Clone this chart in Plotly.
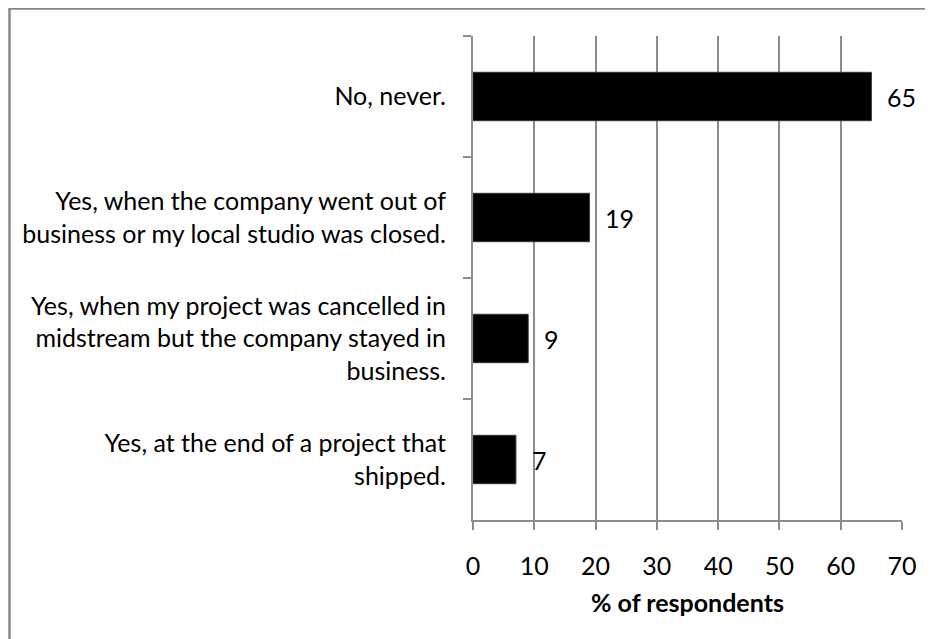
import plotly.graph_objects as go

CATEGORIES = [
    "No, never.",
    "Yes, when the company went out of<br>business or my local studio was closed.",
    "Yes, when my project was cancelled in<br>midstream but the company stayed in<br>business.",
    "Yes, at the end of a project that<br>shipped.",
]
VALUES = [65, 19, 9, 7]
X_TICKS = [0, 10, 20, 30, 40, 50, 60, 70]
X_TITLE = "% of respondents"

FONT = "Lato, Carlito, Calibri, sans-serif"
GRID = "#8c8c8c"
FS = 25

W, H = 933, 639
# the page has an 8px body margin, so the margins are shifted back by 8
L, R, T, B = 465, 39, 28, 127

fig = go.Figure()
fig.add_trace(
    go.Bar(
        x=VALUES,
        y=CATEGORIES,
        orientation="h",
        marker=dict(color="black", line=dict(color="#333", width=1)),
        width=0.4,
        hoverinfo="skip",
    )
)

# data labels sit a bit right of each bar end
for cat, val in zip(CATEGORIES, VALUES):
    fig.add_annotation(
        x=val, y=cat, text=str(val), showarrow=False,
        xanchor="left", xshift=14, font=dict(size=FS, color="black", family=FONT),
    )

# grey frame, only top and left edges are visible in the reference
pw, ph = W - L - R, H - T - B
x0 = (1.5 - L) / pw
y1 = (H - B - 0.5) / ph
fig.add_shape(
    type="path", xref="paper", yref="paper",
    path=f"M {x0},-0.5 L {x0},{y1} L 1.2,{y1}",
    line=dict(color="#888", width=2.5),
)

fig.update_layout(
    width=W, height=H,
    margin=dict(l=L, r=R, t=T, b=B),
    paper_bgcolor="white", plot_bgcolor="white",
    font=dict(family=FONT, size=FS, color="black"),
    showlegend=False,
    bargap=0.6,
)
fig.update_xaxes(
    range=[0, 70], tickvals=X_TICKS, ticks="outside", ticklen=8, tickwidth=2,
    tickcolor=GRID, showgrid=True, gridcolor=GRID, gridwidth=2,
    showline=True, linecolor=GRID, linewidth=2, zeroline=False,
    tickfont=dict(size=FS), ticklabelstandoff=15,
    title=dict(text=f"<b>{X_TITLE}</b>", font=dict(size=FS), standoff=15),
)
fig.update_yaxes(
    autorange="reversed", ticks="outside", tickson="boundaries", ticklen=8,
    tickwidth=2, tickcolor=GRID, showline=True, linecolor=GRID, linewidth=2,
    showgrid=False, ticklabelstandoff=20, tickfont=dict(size=FS),
)

fig.write_html("out.html")
